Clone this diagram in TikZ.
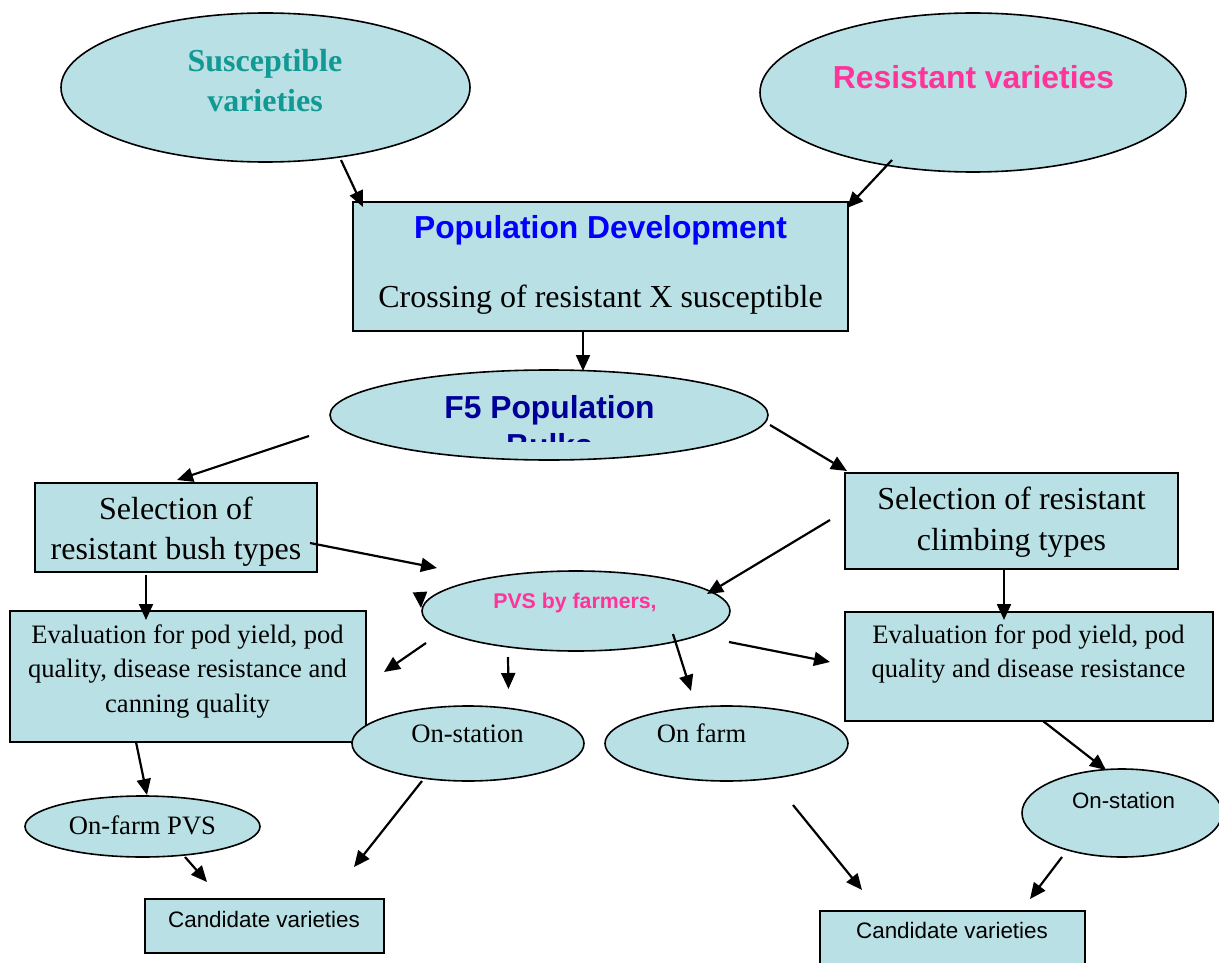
\documentclass[tikz,border=0pt]{standalone}
\usepackage{fontspec}
\setmainfont{Liberation Serif}
\setsansfont{Liberation Sans}
\usetikzlibrary{shapes.geometric,arrows.meta}
\definecolor{boxfill}{RGB}{185,224,228}
\definecolor{tealtxt}{RGB}{17,153,147}
\definecolor{pinktxt}{RGB}{255,51,153}
\definecolor{bluetxt}{RGB}{0,0,255}
\definecolor{navytxt}{RGB}{0,0,153}
\tikzset{
  ell/.style={ellipse, draw=black, line width=1.6pt, fill=boxfill, inner sep=0pt},
  rbox/.style={draw=black, line width=1.6pt, fill=boxfill},
  txt/.style={anchor=base, inner sep=0pt},
  bigserif/.style={font=\fontsize{32}{38}\selectfont},
  bigserifbold/.style={font=\fontsize{32}{38}\selectfont\bfseries, text=tealtxt},
  bigsans/.style={font=\sffamily\fontsize{31.8}{38}\selectfont\bfseries},
  midserif/.style={font=\fontsize{26.6}{32}\selectfont},
  smallsans/.style={font=\sffamily\fontsize{22.3}{26}\selectfont},
  arr/.style={line width=2.2pt, -{Triangle[length=16pt,width=14pt]}},
}
\begin{document}
\begin{tikzpicture}[x=1pt,y=-1pt]
\useasboundingbox (0,0) rectangle (1219,963);
\clip (0,0) rectangle (1219,963);
\fill[white] (0,0) rectangle (1219,963);

% shapes
\node[ell, minimum width=409pt, minimum height=149pt] (sus) at (265.5,87.5) {};
\node[ell, minimum width=426pt, minimum height=159pt] (res) at (973,92.5) {};
\path[rbox] (353,202) rectangle (848,331);
\node[ell, minimum width=438pt, minimum height=90pt] (f5) at (549,415) {};
\path[rbox] (35,483) rectangle (317,572);
\path[rbox] (845,473) rectangle (1178,569);
\node[ell, minimum width=308pt, minimum height=80pt] (pvs) at (576,611) {};
\path[rbox] (10,611) rectangle (366,742);
\path[rbox] (845,612) rectangle (1213,721);
\node[ell, minimum width=232pt, minimum height=75pt] (onst) at (468,743.5) {};
\node[ell, minimum width=243pt, minimum height=75pt] (onfarm) at (726.5,743.5) {};
\node[ell, minimum width=235pt, minimum height=61pt] (onfpvs) at (142.5,826.5) {};
\node[ell, minimum width=200pt, minimum height=88pt] (onst2) at (1122,813) {};
\path[rbox] (145,899) rectangle (384,953);
\path[rbox] (820,911) rectangle (1085,985);

% texts
\node[txt, bigserifbold] (susA) at (265,72) {Susceptible};
\node[txt, bigserifbold] (susB) at (265,112) {varieties};
\node[txt, bigsans, text=pinktxt] (resA) at (973.5,89) {Resistant varieties};
\node[txt, bigsans, text=bluetxt] (popA) at (600.5,238) {Population Development};
\node[txt, bigserif] (popB) at (600.5,307) {Crossing of resistant X susceptible};
\node[txt, bigsans, text=navytxt] (f5A) at (549.5,418) {F5 Population};
\begin{scope}
\clip (330,370) rectangle (768,441);
\node[txt, bigsans, text=navytxt] (f5B) at (549.5,456) {Bulks};
\end{scope}
\node[txt, bigserif] (bushA) at (176,519) {Selection of};
\node[txt, bigserif] (bushB) at (176,559) {resistant bush types};
\node[txt, bigserif] (climbA) at (1011.5,509) {Selection of resistant};
\node[txt, bigserif] (climbB) at (1011.5,550) {climbing types};
\node[txt, font=\sffamily\fontsize{21.3}{26}\selectfont\bfseries, text=pinktxt] (pvsA) at (575,608) {PVS by farmers,};
\node[txt, midserif] (evlA) at (187.5,643) {Evaluation for pod yield, pod};
\node[txt, midserif] (evlB) at (187.5,677) {quality, disease resistance and};
\node[txt, midserif] (evlC) at (187.5,712) {canning quality};
\node[txt, midserif] (evrA) at (1028.5,643) {Evaluation for pod yield, pod};
\node[txt, midserif] (evrB) at (1028.5,677) {quality and disease resistance};
\node[txt, midserif] (onstA) at (467.5,742) {On-station};
\node[txt, midserif] (onfarmA) at (701.5,742) {On farm};
\node[txt, midserif] (onfpvsA) at (142.5,834) {On-farm PVS};
\node[txt, smallsans] (onst2A) at (1123.5,808) {On-station};
\node[txt, font=\sffamily\fontsize{22.4}{26}\selectfont] (candLA) at (264,927) {Candidate varieties};
\node[txt, font=\sffamily\fontsize{22.4}{26}\selectfont] (candRA) at (952,938) {Candidate varieties};

% arrow end points
\coordinate (a1s) at (341,160); \coordinate (a1e) at (363,207);
\coordinate (a2s) at (892,160); \coordinate (a2e) at (847,208);
\coordinate (a3s) at (583,331); \coordinate (a3e) at (583,371);
\coordinate (a4s) at (309,436); \coordinate (a4e) at (177,480);
\coordinate (a5s) at (770,425); \coordinate (a5e) at (847,471);
\coordinate (a6s) at (310,543); \coordinate (a6e) at (437,568);
\coordinate (a7s) at (830,520); \coordinate (a7e) at (707,594);
\coordinate (a8s) at (420,592); \coordinate (a8e) at (421,608);
\coordinate (a9s) at (426,643); \coordinate (a9e) at (384,672);
\coordinate (a10s) at (508,657); \coordinate (a10e) at (508.5,689);
\coordinate (a11s) at (673,634); \coordinate (a11e) at (691,691);
\coordinate (a12s) at (729,642); \coordinate (a12e) at (830,662);
\coordinate (a13s) at (146,575); \coordinate (a13e) at (146,620);
\coordinate (a14s) at (1004,570); \coordinate (a14e) at (1004,620);
\coordinate (a15s) at (136,742); \coordinate (a15e) at (147,795);
\coordinate (a16s) at (185,857); \coordinate (a16e) at (207,882);
\coordinate (a17s) at (422,781); \coordinate (a17e) at (354,867);
\coordinate (a18s) at (793,805); \coordinate (a18e) at (862,890);
\coordinate (a19s) at (1043,721); \coordinate (a19e) at (1106,770);
\coordinate (a20s) at (1062,857); \coordinate (a20e) at (1030,899);

\foreach \i in {1,...,20} {\draw[arr] (a\i s) -- (a\i e);}
\end{tikzpicture}
\end{document}
